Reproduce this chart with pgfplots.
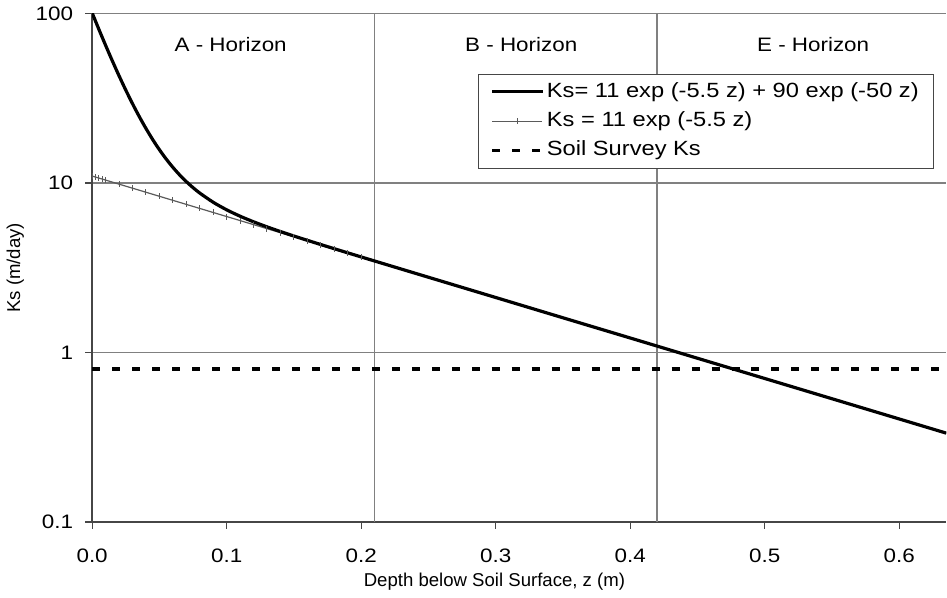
\documentclass[border=0pt]{standalone}
\usepackage{fontspec}
\setmainfont{Liberation Sans}
\newfontfamily\wide[FakeStretch=1.15]{Liberation Sans}
\usepackage{pgfplots}
\pgfplotsset{compat=1.18}
\definecolor{gridgray}{RGB}{128,128,128}
\definecolor{axisgray}{RGB}{70,70,70}
\definecolor{thingray}{RGB}{90,90,90}
\begin{document}
\begin{tikzpicture}
\begin{axis}[
  scale only axis,
  width=427.5pt, height=254.5pt,
  ymode=log, log basis y=10,
  xmin=0, xmax=0.635, ymin=0.1, ymax=100,
  axis x line*=bottom, axis y line*=left,
  axis line style={axisgray, line width=0.7pt},
  xtick={0,0.1,0.2,0.3,0.4,0.5,0.6},
  ytick={0.1,1,10,100},
  yticklabels={0.1,1,10,100},
  minor ytick={},
  tick align=outside,
  major tick length=3.5pt,
  tick style={axisgray, line width=0.6pt},
  /pgf/number format/assume math mode=true,
  ticklabel style={font=\wide\fontsize{9.75}{11}\selectfont},
  xticklabel style={yshift=-6.5pt, /pgf/number format/fixed,
    /pgf/number format/fixed zerofill, /pgf/number format/precision=1},
  yticklabel style={xshift=-2.5pt},
  ymajorgrids,
  major grid style={gridgray, line width=0.6pt},
  xlabel={Depth below Soil Surface, z (m)},
  ylabel={Ks (m/day)},
  label style={font=\fontsize{9.3}{11}\selectfont},
  xlabel style={at={(axis description cs:0.471,0)}, anchor=north, yshift=-22pt},
  ylabel style={yshift=-1pt},
  clip=true,
  legend style={at={(0.986,0.882)}, anchor=north east, draw=axisgray,
    line width=0.6pt, font=\wide\fontsize{10.3}{12}\selectfont,
    row sep=3pt, inner xsep=6pt, inner ysep=3pt,
    nodes={inner xsep=1.5pt, inner ysep=1pt, text height=7.5pt, text depth=2.2pt}},
  legend cell align=left,
  legend image code/.code={
    \draw[mark repeat=2, mark phase=2, #1]
      plot coordinates {(0pt,0pt) (12.5pt,0pt) (25pt,0pt)};
  },
]
% horizon boundaries
\addplot[gridgray, line width=0.6pt, forget plot] coordinates {(0.21,0.1) (0.21,100)};
\addplot[gridgray, line width=0.6pt, forget plot] coordinates {(0.42,0.1) (0.42,100)};

% thin line, single exponential (drawn first, under the thick line)
\addplot[thingray, line width=0.6pt, mark=|, mark size=1.5pt,
  mark options={thingray, line width=0.5pt}, forget plot]
  table {
x y
0 11.000
0.0025 10.850
0.005 10.702
0.0075 10.556
0.01 10.411
0.02 9.854
0.03 9.327
0.04 8.828
0.05 8.355
0.06 7.908
0.07 7.485
0.08 7.084
0.09 6.705
0.10 6.347
0.11 6.007
0.12 5.685
0.13 5.381
0.14 5.093
0.15 4.821
0.16 4.563
0.17 4.318
0.18 4.087
0.19 3.869
0.20 3.662
};

% thick line, double exponential
\addplot[black, line width=1.6pt, smooth]
  table {
x y
0 101.0
0.005 80.79
0.01 65.00
0.015 52.64
0.02 42.96
0.025 35.37
0.03 29.41
0.035 24.71
0.04 21.01
0.045 18.07
0.05 15.74
0.055 13.88
0.06 12.39
0.065 11.18
0.07 10.20
0.075 9.399
0.08 8.733
0.09 7.705
0.10 6.953
0.11 6.375
0.12 5.908
0.13 5.516
0.14 5.175
0.15 4.870
0.17 4.337
0.20 3.666
0.25 2.782
0.30 2.113
0.35 1.604
0.40 1.219
0.45 0.9256
0.50 0.7032
0.55 0.5341
0.60 0.4057
0.635 0.3347
};
\addlegendentry{Ks= 11 exp (-5.5 z) + 90 exp (-50 z)}

\addlegendimage{thingray, line width=0.6pt, mark=|, mark size=1.5pt, mark options={thingray, line width=0.5pt}}
\addlegendentry{Ks = 11 exp (-5.5 z)}

% soil survey
\addplot[black, line width=1.6pt, dash pattern=on 4pt off 6pt]
  coordinates {(0,0.8) (0.635,0.8)};
\addlegendentry{Soil Survey Ks}

\node[font=\wide\fontsize{9.75}{11}\selectfont] at (axis cs:0.103,66) {A - Horizon};
\node[font=\wide\fontsize{9.75}{11}\selectfont] at (axis cs:0.319,66) {B - Horizon};
\node[font=\wide\fontsize{9.75}{11}\selectfont] at (axis cs:0.536,66) {E - Horizon};
\end{axis}
\end{tikzpicture}
\end{document}
